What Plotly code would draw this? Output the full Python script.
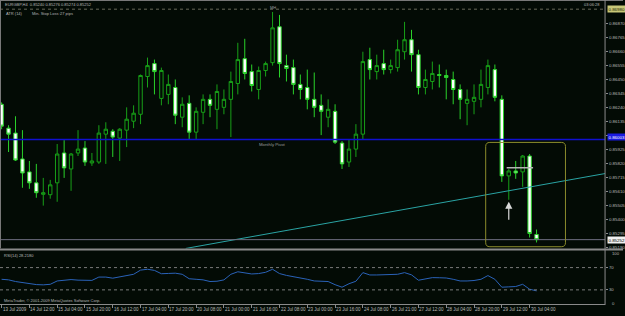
import plotly.graph_objects as go

# ---------------- data ----------------
bars = list(range(78))
opens = [0.86267,0.86088,0.86051,0.85857,0.85760,0.85678,0.85592,0.85589,0.85678,0.85902,
         0.85782,0.85902,0.85939,0.85827,0.85834,0.86043,0.86065,0.86013,0.86073,0.86140,
         0.86192,0.86475,0.86572,0.86311,0.86341,0.86393,0.86170,0.86274,0.86058,0.86207,
         0.86304,0.86229,0.86244,0.86304,0.86423,0.86609,0.86512,0.86378,0.86520,0.86579,
         0.86848,0.86557,0.86542,0.86416,0.86393,0.86304,0.86259,0.86170,0.86214,0.85976,
         0.85834,0.85931,0.86043,0.86602,0.86512,0.86572,0.86527,0.86542,0.86661,0.86751,
         0.86639,0.86393,0.86438,0.86490,0.86483,0.86453,0.86378,0.86274,0.86289,0.86304,
         0.86393,0.86527,0.86304,0.85730,0.85767,0.85760,0.85879,0.85291]
highs = [0.86281,0.86110,0.86177,0.86073,0.85842,0.85820,0.85715,0.85700,0.85969,0.85998,
         0.85902,0.86073,0.85991,0.85902,0.86110,0.86132,0.86080,0.86088,0.86244,0.86259,
         0.86490,0.86617,0.86602,0.86542,0.86490,0.86453,0.86319,0.86334,0.86244,0.86341,
         0.86341,0.86416,0.86378,0.86512,0.86728,0.86758,0.86565,0.86550,0.86587,0.86959,
         0.86937,0.86639,0.86602,0.86490,0.86527,0.86505,0.86341,0.86304,0.86267,0.85991,
         0.86006,0.86118,0.86661,0.86691,0.86639,0.86676,0.86602,0.86751,0.86885,0.86825,
         0.86676,0.86527,0.86587,0.86565,0.86527,0.86512,0.86416,0.86378,0.86416,0.86527,
         0.86602,0.86565,0.86334,0.85782,0.85842,0.85887,0.85894,0.85328]
lows = [0.86080,0.85909,0.85842,0.85641,0.85633,0.85566,0.85507,0.85559,0.85536,0.85715,
        0.85618,0.85879,0.85805,0.85805,0.85820,0.85820,0.85872,0.85842,0.85946,0.86088,
        0.86118,0.86393,0.86341,0.86259,0.86267,0.86118,0.86095,0.86006,0.86006,0.86118,
        0.86170,0.86080,0.86192,0.86021,0.86341,0.86453,0.86363,0.86304,0.86475,0.86557,
        0.86468,0.86438,0.86341,0.86304,0.86229,0.86170,0.86036,0.86095,0.85969,0.85782,
        0.85797,0.85872,0.86006,0.86453,0.86453,0.86490,0.86498,0.86512,0.86602,0.86512,
        0.86341,0.86341,0.86378,0.86393,0.86304,0.86267,0.86155,0.86110,0.86192,0.86244,
        0.86341,0.86289,0.85685,0.85551,0.85708,0.85648,0.85268,0.85231]
closes = [0.86103,0.86043,0.85849,0.85752,0.85678,0.85604,0.85604,0.85663,0.85894,0.85790,
          0.85894,0.85931,0.85834,0.85842,0.86051,0.86080,0.86021,0.86080,0.86155,0.86200,
          0.86483,0.86557,0.86512,0.86520,0.86416,0.86185,0.86267,0.86058,0.86214,0.86304,
          0.86259,0.86363,0.86304,0.86438,0.86602,0.86498,0.86408,0.86520,0.86572,0.86840,
          0.86572,0.86535,0.86416,0.86378,0.86304,0.86244,0.86214,0.86229,0.85983,0.85820,
          0.85931,0.86043,0.86587,0.86527,0.86557,0.86527,0.86557,0.86676,0.86751,0.86639,
          0.86393,0.86453,0.86498,0.86483,0.86468,0.86378,0.86304,0.86304,0.86319,0.86416,
          0.86557,0.86319,0.85730,0.85767,0.85752,0.85879,0.85298,0.85252]
rsi = [49,48,45,43,41,39.5,39,40,46,47,48.5,47.5,47,47,53,53,51,53,55,58,
       65.5,67,65,59,59.5,60,58,50,49,48,45,45.5,47.9,58,62.5,60.7,58.6,59.3,61.6,67,
       59.3,56,54,52.3,49,46,45.5,45,39.3,34.8,41,45.5,61,56.8,56.8,57,57.5,58,61,57,
       47.3,50,52,51.8,51.3,49,46,46,46.8,49,55.7,49,34.8,35.4,36,40,31.2,28.2]

time_label_bars = [0,4,8,12,16,20,24,28,32,36,40,44,48,52,56,60,64,68,72,76]
time_labels = ["13 Jul 2009","14 Jul 12:00","15 Jul 04:00","15 Jul 20:00","16 Jul 12:00",
               "17 Jul 04:00","17 Jul 20:00","20 Jul 08:00","21 Jul 00:00","21 Jul 16:00",
               "22 Jul 08:00","23 Jul 00:00","23 Jul 16:00","24 Jul 08:00","26 Jul 21:00",
               "27 Jul 12:00","28 Jul 04:00","28 Jul 20:00","29 Jul 12:00","30 Jul 04:00"]
price_ticks = [0.86870,0.86765,0.86660,0.86555,0.86450,0.86345,0.86240,0.86135,0.86030,
               0.85925,0.85820,0.85715,0.85610,0.85505,0.85400,0.85295,0.85190]
rsi_levels = [70, 30]

pivot = 0.86003
bid = 0.85252
top_level = 0.86980
trend_bars = [26.5, 86.9]
trend_prices = [0.85186, 0.85748]
resist_bars = [72.7, 76.5]
resist_price = 0.85792
box_bars = [69.68, 81.16]
box_prices = [0.85199, 0.85981]
arrow_bar = 73
arrow_prices = [0.85390, 0.85537]

# ---------------- styling ----------------
W, H = 625, 316
BG = "#030b05"
FONT = "Liberation Sans"
TXT = "#b8b8b8"
XR = [-0.23, 86.86]
XD = [0, 607 / W]

def py(px):
    return 1 - px / H

fig = go.Figure()
fig.add_trace(go.Candlestick(
    x=bars, open=opens, high=highs, low=lows, close=closes,
    increasing=dict(line=dict(color="#18a018", width=1), fillcolor=BG),
    decreasing=dict(line=dict(color="#2ad22a", width=1), fillcolor="#ffffff"),
    whiskerwidth=0, showlegend=False, hoverinfo="skip", xaxis="x", yaxis="y"))
fig.add_trace(go.Scatter(
    x=bars, y=rsi, mode="lines", line=dict(color="#2a62b8", width=1),
    showlegend=False, hoverinfo="skip", xaxis="x2", yaxis="y2"))
fig.add_trace(go.Scatter(
    x=trend_bars, y=trend_prices, mode="lines", line=dict(color="#2aa4a4", width=1),
    showlegend=False, hoverinfo="skip", xaxis="x", yaxis="y", cliponaxis=True))

shapes = []
shapes.append(dict(type="line", xref="x domain", yref="y", x0=0, x1=1, y0=pivot, y1=pivot,
                   line=dict(color="#1010d0", width=1.5)))
shapes.append(dict(type="line", xref="x domain", yref="y", x0=0, x1=1, y0=bid, y1=bid,
                   line=dict(color="#6e6e80", width=1)))
shapes.append(dict(type="line", xref="x domain", yref="y", x0=0, x1=1, y0=top_level, y1=top_level,
                   line=dict(color="#6a6a5a", width=1, dash="dot")))
shapes.append(dict(type="line", xref="x", yref="y", x0=resist_bars[0], x1=resist_bars[1],
                   y0=resist_price, y1=resist_price, line=dict(color="#b4b4b4", width=1.5)))
x0, x1 = box_bars
y0, y1 = box_prices
rx, ry = 0.6, 0.0003
path = (f"M {x0+rx},{y1} L {x1-rx},{y1} Q {x1},{y1} {x1},{y1-ry} L {x1},{y0+ry} "
        f"Q {x1},{y0} {x1-rx},{y0} L {x0+rx},{y0} Q {x0},{y0} {x0},{y0+ry} "
        f"L {x0},{y1-ry} Q {x0},{y1} {x0+rx},{y1} Z")
shapes.append(dict(type="path", xref="x", yref="y", path=path,
                   line=dict(color="#8c8c2c", width=1)))
for lv in rsi_levels:
    shapes.append(dict(type="line", xref="x2 domain", yref="y2", x0=0, x1=1, y0=lv, y1=lv,
                       line=dict(color="#7a7a7a", width=1, dash="dot")))
shapes.append(dict(type="rect", xref="paper", yref="paper", x0=0, x1=1, y0=py(252), y1=py(250),
                   fillcolor="#8a8a8a", line=dict(width=0)))
shapes.append(dict(type="line", xref="paper", yref="paper", x0=0, x1=1, y0=py(0.5), y1=py(0.5),
                   line=dict(color="#7a7a7a", width=1)))
shapes.append(dict(type="line", xref="paper", yref="paper", x0=0.5 / W, x1=0.5 / W, y0=py(250), y1=py(0),
                   line=dict(color="#7a7a7a", width=1)))
shapes.append(dict(type="line", xref="paper", yref="paper", x0=607 / W, x1=607 / W, y0=py(307), y1=py(0),
                   line=dict(color="#8a8a8a", width=1)))

ann = []
def txt(x, y, s, size=4.6, color=TXT, xanchor="left", **kw):
    ann.append(dict(xref="paper", yref="paper", x=x / W, y=py(y), text=s, showarrow=False,
                    xanchor=xanchor, yanchor="middle", font=dict(family=FONT, size=size, color=color), **kw))

txt(3, 4.5, "EURGBP,H4  0.85240 0.85276 0.85274 0.85252", size=4)
txt(4, 14, "ATR (14)", size=4)
txt(30, 14, "Min. Stop Loss :", size=4)
txt(58, 14, "27 pips", size=4)
txt(604, 4.5, "03:06:28", size=4, xanchor="right")
txt(2, 257, "RSI(14) 28.2180", size=4)
txt(2, 302, "MetaTrader, © 2001-2009 MetaQuotes Software Corp.", size=4)
txt(612, 254.7, "100", size=4.2)
txt(612, 305, "0", size=4.2)
for b, s in zip(time_label_bars, time_labels):
    ann.append(dict(xref="x2", yref="paper", x=b, y=py(311.5), text=s, showarrow=False,
                    xanchor="left", yanchor="middle", xshift=-1,
                    font=dict(family=FONT, size=4.5, color=TXT)))
ann.append(dict(xref="x", yref="y", x=36.8, y=pivot, text="Monthly Pivot", showarrow=False,
                xanchor="left", yanchor="top", yshift=-1, font=dict(family=FONT, size=4.3, color="#9a9a9a")))
ann.append(dict(xref="x", yref="y", x=39, y=highs[39], text="MH", showarrow=False,
                xanchor="center", yanchor="bottom", font=dict(family=FONT, size=4, color="#9a9a9a")))
def plabel(price, bg, fg, yshift=0):
    ann.append(dict(xref="paper", yref="y", x=608.5 / W, y=price, text=f"{price:.5f}", showarrow=False,
                    xanchor="left", yanchor="middle", bgcolor=bg, borderpad=0.5, yshift=yshift,
                    font=dict(family=FONT, size=4.4, color=fg)))
plabel(pivot, "#1a1ae0", "#ffffff", yshift=2.5)
plabel(bid, "#f0f0f0", "#000000")
plabel(top_level, "#c8c878", "#202000")
ann.append(dict(xref="x", yref="y", axref="x", ayref="y", x=arrow_bar, y=arrow_prices[1],
                ax=arrow_bar, ay=arrow_prices[0], text="", showarrow=True,
                arrowhead=2, arrowsize=1.2, arrowwidth=1.2, arrowcolor="#d8d8d8"))

fig.update_layout(
    width=W, height=H, margin=dict(l=0, r=0, t=0, b=0),
    paper_bgcolor=BG, plot_bgcolor=BG, showlegend=False,
    shapes=shapes, annotations=ann,
    xaxis=dict(domain=XD, range=XR, anchor="y", showgrid=False, zeroline=False,
               showticklabels=False, ticks="", rangeslider=dict(visible=False), fixedrange=True),
    yaxis=dict(domain=[py(250), 1], range=[0.851863, 0.870488], side="right", anchor="x",
               tickvals=price_ticks, ticktext=[f"{v:.5f}" for v in price_ticks],
               tickfont=dict(family=FONT, size=4.4, color=TXT), ticks="outside", ticklen=2,
               tickcolor="#8a8a8a", showgrid=False, zeroline=False, showline=False),
    xaxis2=dict(domain=XD, range=XR, anchor="y2", showgrid=False, zeroline=False,
                showticklabels=False, ticks="outside", ticklen=3, tickcolor="#8a8a8a",
                tickvals=time_label_bars, showline=True, linecolor="#8a8a8a", linewidth=1),
    yaxis2=dict(domain=[py(306), py(252)], range=[4.5, 100.9], side="right", anchor="x2",
                tickvals=rsi_levels, ticktext=[str(v) for v in rsi_levels],
                tickfont=dict(family=FONT, size=4.2, color=TXT), ticks="outside", ticklen=2,
                tickcolor="#8a8a8a", showgrid=False, zeroline=False, showline=False),
)

fig.write_html("out.html", config={"displayModeBar": False})
